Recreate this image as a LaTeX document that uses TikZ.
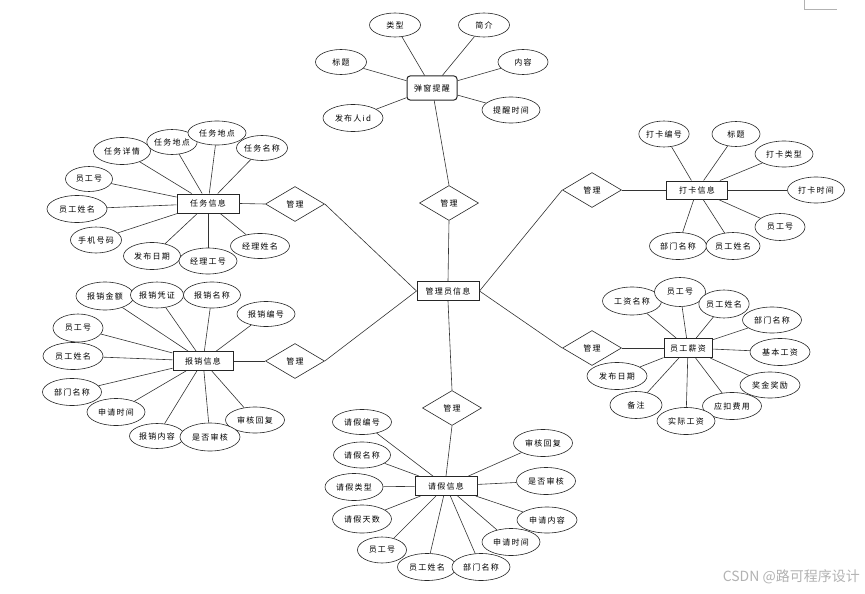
\documentclass[tikz,border=0pt]{standalone}
\usepackage{fontspec}
\newfontfamily\cjk[LetterSpace=15]{Noto Sans CJK SC}
\newfontfamily\cjkplain{Noto Sans CJK SC}
\usetikzlibrary{shapes.geometric}

\begin{document}
\begin{tikzpicture}[
  x=1pt, y=-1pt,
  attr/.style={ellipse, draw=black!85, line width=0.6pt, fill=white,
               minimum width=58pt, minimum height=26pt, inner sep=0pt,
               font=\cjk\fontsize{8}{9}\selectfont},
  entity/.style={rectangle, draw=black!85, line width=1pt, fill=white,
                 minimum width=62pt, minimum height=19pt, inner sep=0pt,
                 font=\cjk\fontsize{8}{9}\selectfont},
  rel/.style={diamond, draw=black!85, line width=0.6pt, fill=white,
              minimum width=59pt, minimum height=35pt, inner sep=0pt,
              font=\cjk\fontsize{8}{9}\selectfont},
  link/.style={draw=black!80, line width=0.6pt},
]
  \useasboundingbox (0,0) rectangle (865,594);

  % entities
  \node[entity] (admin) at (448,291) {管理员信息};
  \node[entity, rounded corners=3pt, minimum width=50pt, minimum height=24pt] (popup) at (432,88) {弹窗提醒};
  \node[entity] (task) at (208,203.5) {任务信息};
  \node[entity, minimum width=61pt, minimum height=18pt] (punch) at (697,190) {打卡信息};
  \node[entity, minimum width=60pt] (reimb) at (203,361) {报销信息};
  \node[entity, minimum width=48pt] (salary) at (688,348) {员工薪资};
  \node[entity] (leave) at (446,486) {请假信息};

  % relations
  \node[rel] (mPopup) at (449,203) {管理};
  \node[rel] (mTask) at (295,204) {管理};
  \node[rel] (mReimb) at (295,361) {管理};
  \node[rel] (mPunch) at (592,190) {管理};
  \node[rel] (mSalary) at (592,348) {管理};
  \node[rel] (mLeave) at (452,408) {管理};

  % popup attributes
  \node[attr, minimum width=51pt, minimum height=24pt] (p1) at (395,25) {类型};
  \node[attr, minimum width=51pt, minimum height=24pt] (p2) at (484,25) {简介};
  \node[attr, minimum width=51pt, minimum height=25pt] (p3) at (341,62) {标题};
  \node[attr, minimum width=50pt, minimum height=25pt] (p4) at (523,62) {内容};
  \node[attr, minimum width=60pt, minimum height=27pt] (p5) at (353,118) {发布人id};
  \node[attr] (p6) at (511,110) {提醒时间};

  % task attributes
  \node[attr, minimum width=57pt, minimum height=27pt] (t1) at (122,151) {任务详情};
  \node[attr, minimum width=50pt, minimum height=25pt] (t2) at (172,142) {任务地点};
  \node[attr, minimum height=24pt] (t3) at (217,133) {任务地点};
  \node[attr, minimum width=51pt, minimum height=25pt] (t4) at (262,148) {任务名称};
  \node[attr, minimum width=47pt, minimum height=25pt] (t5) at (89,179) {员工号};
  \node[attr, minimum width=60pt, minimum height=27pt] (t6) at (77,209) {员工姓名};
  \node[attr, minimum width=51pt] (t7) at (96,240) {手机号码};
  \node[attr, minimum width=57pt, minimum height=27pt] (t8) at (152,256) {发布日期};
  \node[attr] (t9) at (208,261) {经理工号};
  \node[attr, minimum width=59pt, minimum height=25pt] (t10) at (260,246) {经理姓名};

  % punch attributes
  \node[attr, minimum width=49pt] (k1) at (664,134) {打卡编号};
  \node[attr, minimum width=48pt, minimum height=25pt] (k2) at (736,134) {标题};
  \node[attr] (k3) at (784,154) {打卡类型};
  \node[attr, minimum width=57pt] (k4) at (816,190) {打卡时间};
  \node[attr, minimum width=50pt, minimum height=27pt] (k5) at (780,227) {员工号};
  \node[attr, minimum width=57pt, minimum height=27pt] (k6) at (678,246) {部门名称};
  \node[attr, minimum width=54pt, minimum height=27pt] (k7) at (733,246) {员工姓名};

  % reimbursement attributes
  \node[attr, minimum height=28pt] (r1) at (105,296) {报销金额};
  \node[attr, minimum width=53pt] (r2) at (157,295) {报销凭证};
  \node[attr, minimum width=57pt] (r3) at (212,295) {报销名称};
  \node[attr, minimum height=25pt] (r4) at (266,314) {报销编号};
  \node[attr, minimum width=50pt, minimum height=28pt] (r5) at (78,328) {员工号};
  \node[attr, minimum width=60pt, minimum height=27pt] (r6) at (73,356) {员工姓名};
  \node[attr, minimum width=59pt, minimum height=27pt] (r7) at (72,392) {部门名称};
  \node[attr, minimum height=27pt] (r8) at (116,412) {申请时间};
  \node[attr, minimum width=59pt] (r9) at (255,420) {审核回复};
  \node[attr, minimum width=55pt, minimum height=25pt] (r10) at (157,436) {报销内容};
  \node[attr, minimum width=60pt, minimum height=28pt] (r11) at (210,437) {是否审核};

  % salary attributes
  \node[attr, minimum width=59pt, minimum height=28pt] (s1) at (632,301) {工资名称};
  \node[attr, minimum width=51pt, minimum height=29pt] (s2) at (680,292) {员工号};
  \node[attr, minimum width=50pt, minimum height=28pt] (s3) at (724,304) {员工姓名};
  \node[attr, minimum width=59pt] (s4) at (772,320) {部门名称};
  \node[attr, minimum width=60pt, minimum height=27pt] (s5) at (780,352) {基本工资};
  \node[attr, minimum width=60pt] (s6) at (770,385) {奖金奖励};
  \node[attr, minimum width=60pt, minimum height=27pt] (s11) at (617,376) {发布日期};
  \node[attr, minimum width=52pt, minimum height=27pt] (s10) at (636,405) {备注};
  \node[attr, minimum width=59pt, minimum height=27pt] (s7) at (732,406) {应扣费用};
  \node[attr, minimum height=27pt] (s8) at (686,421) {实际工资};

  % leave attributes
  \node[attr, minimum width=59pt, minimum height=25pt] (l1) at (362,422) {请假编号};
  \node[attr, minimum width=57pt] (l2) at (362,455) {请假名称};
  \node[attr, minimum height=27pt] (l3) at (354,487) {请假类型};
  \node[attr, minimum width=59pt, minimum height=28pt] (l4) at (362,519) {请假天数};
  \node[attr, minimum width=59pt, minimum height=27pt] (l5) at (543,443) {审核回复};
  \node[attr, minimum width=59pt, minimum height=27pt] (l6) at (546,481) {是否审核};
  \node[attr, minimum width=60pt] (l7) at (547,520) {申请内容};
  \node[attr, minimum height=27pt] (l8) at (511,542) {申请时间};
  \node[attr, minimum width=49pt] (l9) at (382,550) {员工号};
  \node[attr, minimum width=59pt, minimum height=27pt] (l10) at (427,567) {员工姓名};
  \node[attr, minimum height=27pt] (l11) at (481,567) {部门名称};

  % relation links
  \draw[link] (popup) -- (mPopup.north);
  \draw[link] (mPopup.south) -- (admin.north);
  \draw[link] (task.east) -- (mTask.west);
  \draw[link] (mTask.east) -- (admin.west);
  \draw[link] (reimb.east) -- (mReimb.west);
  \draw[link] (mReimb.east) -- (admin.west);
  \draw[link] (punch.west) -- (mPunch.east);
  \draw[link] (mPunch.west) -- (admin.east);
  \draw[link] (salary.west) -- (mSalary.east);
  \draw[link] (mSalary.west) -- (admin.east);
  \draw[link] (admin.south) -- (mLeave.north);
  \draw[link] (mLeave.south) -- (leave.north);

  % attribute links
  \foreach \a in {p1,p2,p3,p4,p5,p6}
    \draw[link] (\a) -- (popup);
  \foreach \a in {t1,t2,t3,t4,t5,t6,t7,t8,t9,t10}
    \draw[link] (\a) -- (task);
  \foreach \a in {k1,k2,k3,k4,k5,k6,k7}
    \draw[link] (\a) -- (punch);
  \foreach \a in {r1,r2,r3,r4,r5,r6,r7,r8,r9,r10,r11}
    \draw[link] (\a) -- (reimb);
  \foreach \a in {s1,s2,s3,s4,s5,s6,s7,s8,s10,s11}
    \draw[link] (\a) -- (salary);
  \foreach \a in {l1,l2,l3,l4,l5,l6,l7,l8,l9,l10,l11}
    \draw[link] (\a) -- (leave);

  % page corner mark and watermark
  \draw[black!30, line width=0.6pt] (804,0) -- (804,9) -- (837,9);
  \node[anchor=east, text=black!30, inner sep=0pt,
        font=\cjkplain\fontsize{14}{16}\selectfont] (mark) at (860,577) {CSDN @路可程序设计};
\end{tikzpicture}
\end{document}
